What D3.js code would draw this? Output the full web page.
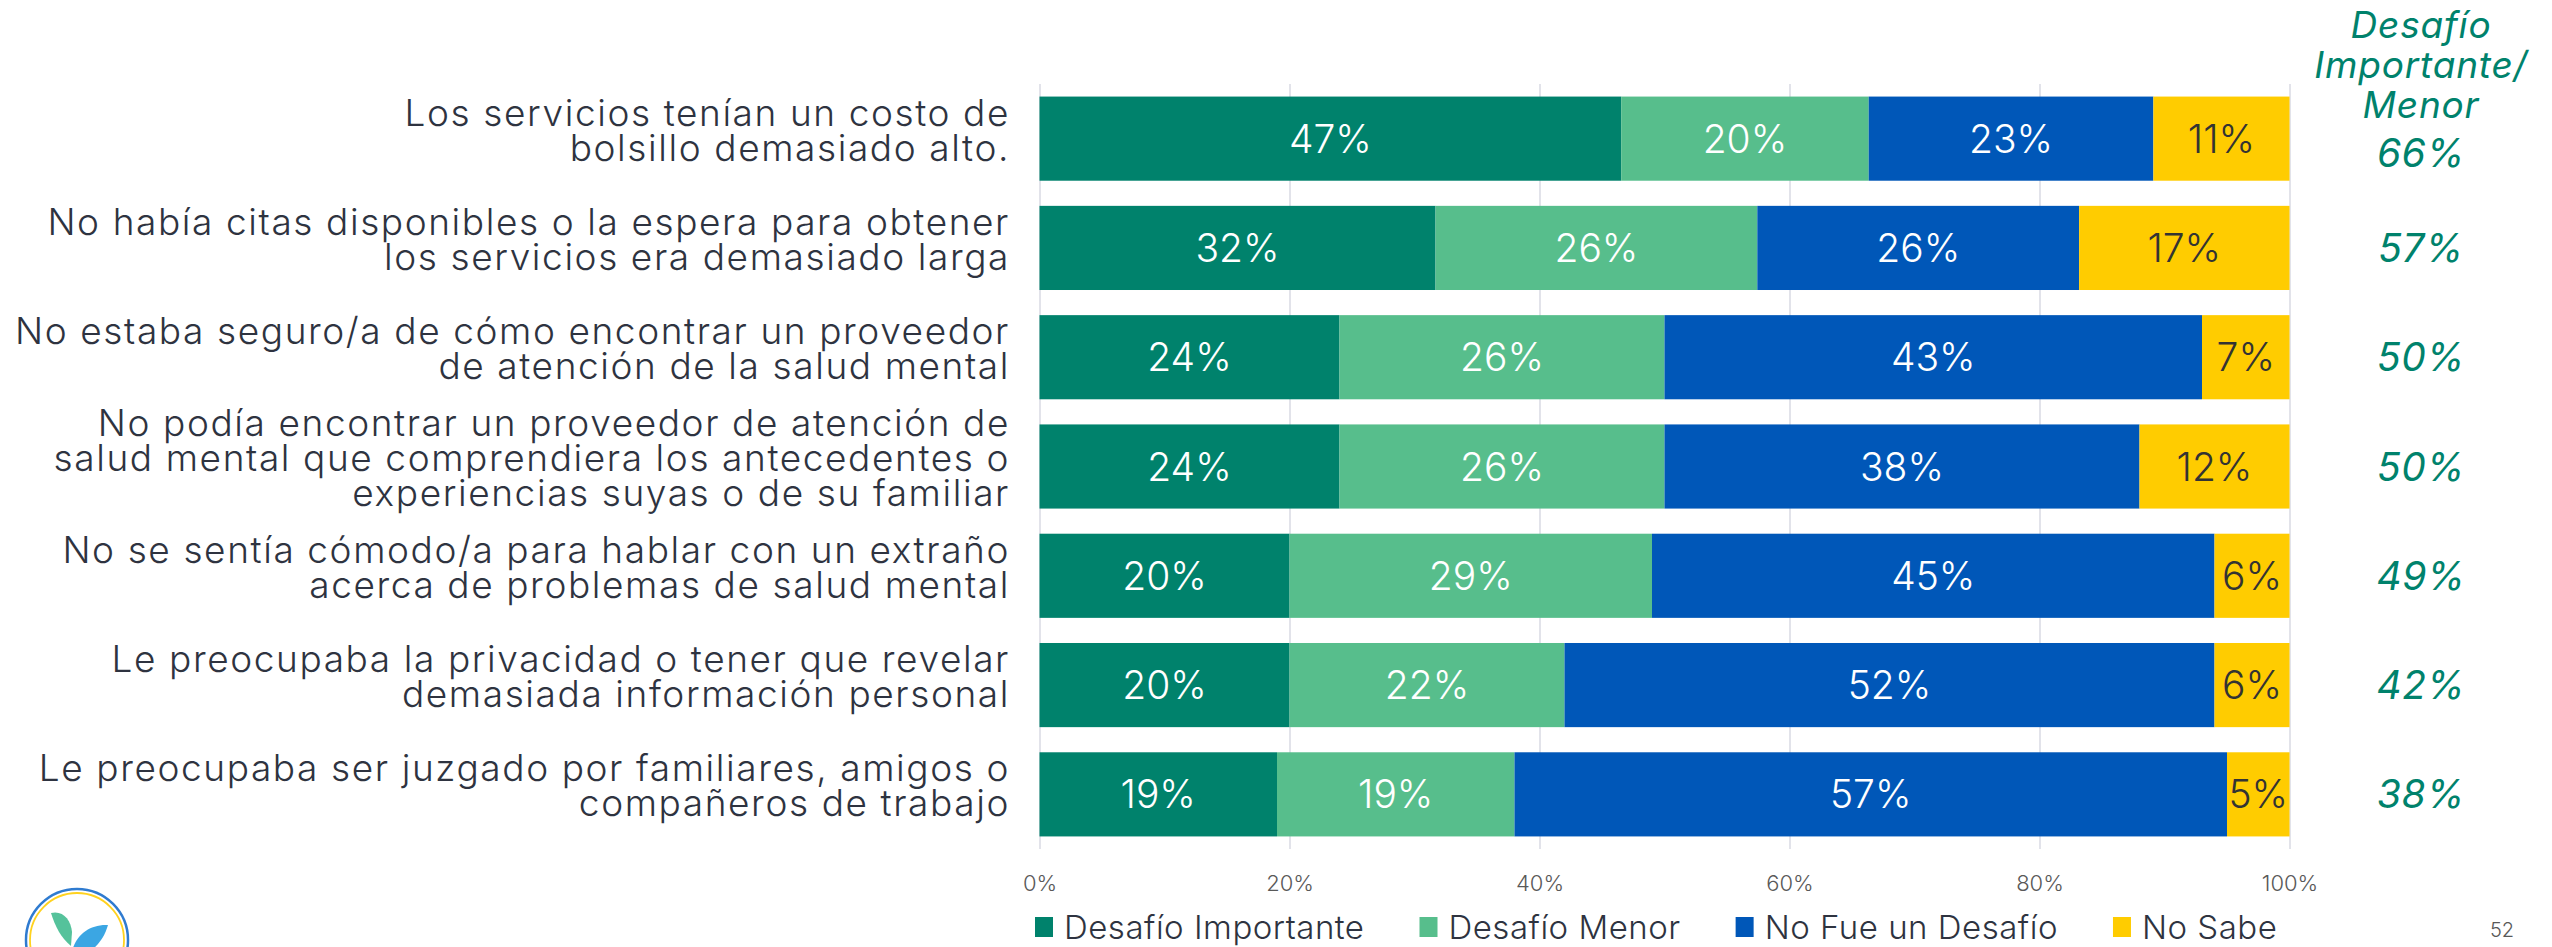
<!DOCTYPE html>
<html>
<head>
<meta charset="utf-8">
<script src="https://cdn.jsdelivr.net/npm/d3@7"></script>
<style>
  body { margin: 0; background: #fff; }
  svg { display: block; }
  text { font-family: Inter, "Open Sans", sans-serif; }
</style>
</head>
<body>
<svg id="chart" width="2552" height="947"></svg>
<script>
// categories, one array of lines per bar
var categories = [
    ["Los servicios tenían un costo de", "bolsillo demasiado alto."],
    ["No había citas disponibles o la espera para obtener", "los servicios era demasiado larga"],
    ["No estaba seguro/a de cómo encontrar un proveedor", "de atención de la salud mental"],
    ["No podía encontrar un proveedor de atención de", "salud mental que comprendiera los antecedentes o", "experiencias suyas o de su familiar"],
    ["No se sentía cómodo/a para hablar con un extraño", "acerca de problemas de salud mental"],
    ["Le preocupaba la privacidad o tener que revelar", "demasiada información personal"],
    ["Le preocupaba ser juzgado por familiares, amigos o", "compañeros de trabajo"]
];

var seriesNames = ["Desafío Importante", "Desafío Menor", "No Fue un Desafío", "No Sabe"];
var importante = [47, 32, 24, 24, 20, 20, 19];
var menor      = [20, 26, 26, 26, 29, 22, 19];
var noFue      = [23, 26, 43, 38, 45, 52, 57];
var noSabe     = [11, 17, 7, 12, 6, 6, 5];
var combinado  = [66, 57, 50, 50, 49, 42, 38];
var xTicks = [0, 0.2, 0.4, 0.6, 0.8, 1];

var colors = ["#00826C", "#57BE8C", "#0057B8", "#FFCC00"];
var labelColors = ["#fff", "#fff", "#fff", "#333"];

var svg = d3.select("#chart");

var rows = categories.map(function(c, i) {
    var r = { index: i };
    r[seriesNames[0]] = importante[i];
    r[seriesNames[1]] = menor[i];
    r[seriesNames[2]] = noFue[i];
    r[seriesNames[3]] = noSabe[i];
    return r;
});

var stack = d3.stack().keys(seriesNames).offset(d3.stackOffsetExpand);
var layers = stack(rows);

var plotTop = 84, plotBottom = 849;
var x = d3.scaleLinear().domain([0, 1]).range([1039.5, 2289.5]);
var y = d3.scaleBand()
    .domain(d3.range(categories.length))
    .range([plotTop, plotBottom])
    .paddingInner(0.23)
    .paddingOuter(0.115);

// grid + tick labels
var axis = svg.append("g")
    .attr("transform", "translate(0," + plotBottom + ")")
    .call(d3.axisBottom(x)
        .tickValues(xTicks)
        .tickFormat(d3.format(".0%"))
        .tickSize(-(plotBottom - plotTop))
        .tickPadding(26));
axis.select(".domain").remove();
axis.selectAll(".tick line").attr("stroke", "#D9DAE3").attr("stroke-width", 1.5);
axis.selectAll(".tick text")
    .attr("fill", "#595959")
    .style("font-family", "Inter")
    .style("font-size", "22px")
    .style("font-weight", 300);

// bars
var layer = svg.append("g")
    .selectAll("g")
    .data(layers)
    .enter().append("g")
    .attr("fill", function(d, i) { return colors[i]; });

layer.selectAll("rect")
    .data(function(d) { return d; })
    .enter().append("rect")
    .attr("x", function(d) { return x(d[0]); })
    .attr("y", function(d) { return y(d.data.index); })
    .attr("width", function(d) { return x(d[1]) - x(d[0]); })
    .attr("height", y.bandwidth());

// values inside bars
layers.forEach(function(l, k) {
    svg.append("g")
        .selectAll("text")
        .data(l)
        .enter().append("text")
        .attr("x", function(d) { return (x(d[0]) + x(d[1])) / 2; })
        .attr("y", function(d) { return y(d.data.index) + y.bandwidth() / 2; })
        .attr("dy", "0.36em")
        .attr("text-anchor", "middle")
        .attr("fill", labelColors[k])
        .style("font-size", "39px")
        .style("font-weight", 300)
        .text(function(d) { return d.data[l.key] + "%"; });
});

// category labels
var catText = svg.append("g")
    .selectAll("text")
    .data(categories)
    .enter().append("text")
    .attr("text-anchor", "end")
    .attr("fill", "#2E3340")
    .style("font-size", "37px")
    .style("font-weight", 300)
    .style("letter-spacing", "1.6px")
    .attr("y", function(d, i) {
        var c = y(i) + y.bandwidth() / 2 - 9;
        return c - (d.length - 1) * 35 / 2 + 13.5;
    });

catText.selectAll("tspan")
    .data(function(d) { return d; })
    .enter().append("tspan")
    .attr("x", 1010)
    .attr("dy", function(d, j) { return j === 0 ? 0 : 35; })
    .text(function(d) { return d; });

// right column: combined share
var colX = 2421;
svg.append("text")
    .attr("text-anchor", "middle")
    .attr("fill", "#00826C")
    .style("font-size", "37px")
    .style("font-style", "italic")
    .style("letter-spacing", "0.8px")
    .selectAll("tspan")
    .data(["Desafío", "Importante/", "Menor"])
    .enter().append("tspan")
    .attr("x", colX)
    .attr("y", function(d, i) { return 38 + i * 40; })
    .text(function(d) { return d; });

svg.append("g")
    .selectAll("text")
    .data(combinado)
    .enter().append("text")
    .attr("x", colX)
    .attr("y", function(d, i) { return y(i) + y.bandwidth() / 2 + (i === 0 ? 14 : 0); })
    .attr("dy", "0.36em")
    .attr("text-anchor", "middle")
    .attr("fill", "#00826C")
    .style("font-size", "39px")
    .style("font-style", "italic")
    .style("letter-spacing", "0.5px")
    .text(function(d) { return d + "%"; });

// legend
var legend = svg.append("g").attr("transform", "translate(1035,927)");
var lx = 0;
seriesNames.forEach(function(name, i) {
    var item = legend.append("g").attr("transform", "translate(" + lx + ",0)");
    item.append("rect")
        .attr("x", 0).attr("y", -10)
        .attr("width", 18).attr("height", 20)
        .attr("fill", colors[i]);
    var t = item.append("text")
        .attr("x", 29)
        .attr("dy", "0.36em")
        .attr("fill", "#2E3340")
        .style("font-size", "33px")
        .style("font-weight", 300)
        .style("letter-spacing", "0.5px")
        .text(name);
    lx += 29 + t.node().getComputedTextLength() + 55;
});

// page number
svg.append("text")
    .attr("x", 2502).attr("y", 930)
    .attr("dy", "0.36em")
    .attr("text-anchor", "middle")
    .attr("fill", "#595959")
    .style("font-size", "20px")
    .style("font-weight", 300)
    .text("52");

// logo, bottom left (partly cut off)
var logo = svg.append("g").attr("transform", "translate(77,940)");
logo.append("circle").attr("r", 51).attr("fill", "#fff")
    .attr("stroke", "#2F7BD0").attr("stroke-width", 2.5);
logo.append("circle").attr("r", 47).attr("fill", "none")
    .attr("stroke", "#FFD21F").attr("stroke-width", 1.8);
logo.append("path")
    .attr("d", "M-26,-27 C-14,-30 -6,-20 -5,-8 L-6,6 C-16,-2 -22,-14 -26,-27 Z")
    .attr("fill", "#55C29B");
logo.append("path")
    .attr("d", "M31,-15 C12,-16 -2,-4 -5,12 L-3,20 C16,12 26,2 31,-15 Z")
    .attr("fill", "#3BA6E3");
</script>
</body>
</html>
